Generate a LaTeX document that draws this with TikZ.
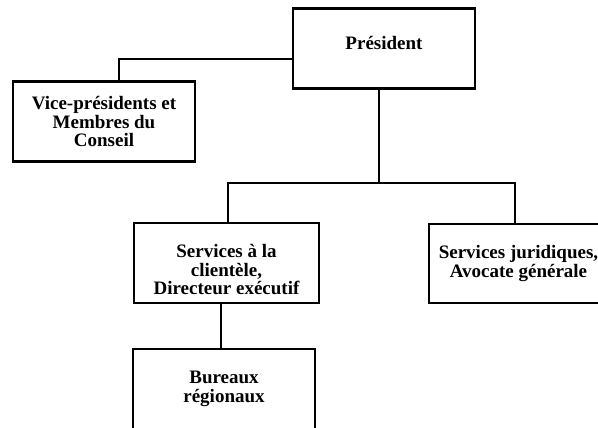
\documentclass[tikz,border=0pt]{standalone}
\usepackage{fontspec}
\setmainfont{Liberation Serif}
\usepackage{tikz}
\usetikzlibrary{positioning}

\begin{document}
\begin{tikzpicture}[x=1pt,y=-1pt,
    orgbox/.style={draw,line width=2.2pt,minimum width=182pt,minimum height=80pt,
      align=center,inner sep=0pt,font=\fontsize{19}{18.5}\selectfont\bfseries},
    link/.style={line width=2.2pt}]
  \useasboundingbox (0,0) rectangle (598,428);
  \clip (0,0) rectangle (598,428);
  \node[orgbox] (pres) at (384,48.5) {\rule[-12pt]{0pt}{12pt}Président};
  \node[orgbox] (vice) at (104,121.5) {Vice-présidents et\\Membres du\\Conseil};
  \node[orgbox,minimum width=185pt] (client) at (226.5,263) {\rule{0pt}{27pt}Services à la\\clientèle,\\Directeur exécutif};
  \node[orgbox,minimum width=179pt,minimum height=79pt] (jurid) at (518.5,263.5) {Services juridiques,\\Avocate générale};
  \node[orgbox] (bureau) at (224,389) {Bureaux\\régionaux};
  % elbows of the connectors
  \coordinate (vtop) at (119,59);
  \coordinate (bus) at (379,183);
  \coordinate (busL) at (228,183);
  \coordinate (busR) at (515,183);
  \coordinate (drop) at (221,325);
  \draw[link] (pres.west |- vtop) -- (vtop) -- (vtop |- vice.north);
  \draw[link] (pres.south -| bus) -- (bus);
  \draw[link] (busL |- client.north) -- (busL) -- (busR) -- (busR |- jurid.north);
  \draw[link] (drop |- client.south) -- (drop |- bureau.north);
\end{tikzpicture}
\end{document}
